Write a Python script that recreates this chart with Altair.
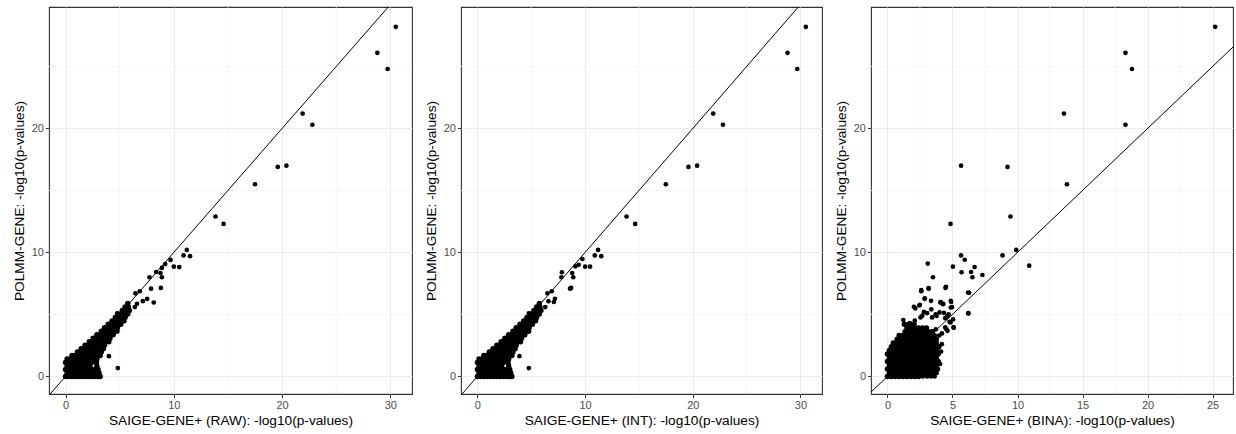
import altair as alt
import pandas as pd

# ---------------- data ----------------
# Panels 1 and 2 share the same dense cloud near the origin (rows: y -> list of x)
cloud12_rows = {
    0.00: [0, 0.3, 0.6, 0.9, 1.2, 1.5, 1.8, 2.1, 2.4, 2.7, 3.0, 3.2],
    0.28: [0.15, 0.45, 0.75, 1.05, 1.35, 1.65, 1.95, 2.25, 2.55, 2.85, 3.1],
    0.56: [0, 0.3, 0.6, 0.9, 1.2, 1.5, 1.8, 2.1, 2.4, 2.7, 3.0],
    0.84: [0.15, 0.45, 0.75, 1.05, 1.35, 1.65, 1.95, 2.25, 2.9],
    1.12: [0, 0.3, 0.6, 0.9, 1.2, 1.5, 1.8, 2.1, 2.4, 2.85],
    1.40: [0.15, 0.45, 0.75, 1.05, 1.35, 1.65, 1.95, 2.25, 2.55, 2.9],
    1.68: [0.6, 0.9, 1.2, 1.5, 1.8, 2.1, 2.4, 2.7, 3.0, 3.2],
    1.96: [1.1, 1.4, 1.7, 2.0, 2.3, 2.6, 2.9, 3.3],
    2.24: [1.45, 1.75, 2.05, 2.35, 2.65, 2.95, 3.25, 3.5],
    2.52: [1.8, 2.1, 2.4, 2.7, 3.0, 3.3, 3.6],
    2.80: [2.2, 2.5, 2.8, 3.1, 3.4, 3.7, 4.0],
    3.08: [2.55, 2.85, 3.15, 3.45, 3.75, 4.1],
    3.36: [2.9, 3.2, 3.5, 3.8, 4.1, 4.4],
    3.64: [3.3, 3.6, 3.9, 4.2, 4.5, 4.75],
    3.92: [3.6, 3.9, 4.2, 4.5, 4.8],
    4.20: [3.95, 4.25, 4.55, 4.85, 5.1],
    4.48: [4.3, 4.6, 4.9, 5.2, 5.4],
    4.76: [4.6, 4.9, 5.2, 5.5],
    5.04: [4.9, 5.2, 5.5, 5.75],
    5.32: [5.25, 5.55, 5.9],
    5.60: [5.5, 5.8],
    5.88: [5.75],
}

raw_x = [30.5, 28.8, 29.75, 21.9, 22.8, 19.6, 20.4, 17.5, 13.85, 14.6, 11.2, 10.9,
         11.5, 9.7, 10.0, 10.5, 9.2, 8.9, 7.75, 8.37, 8.77, 8.9, 7.9, 8.8, 8.15,
         6.46, 6.86, 7.54, 7.14, 6.6, 6.4, 4.77, 5.6, 4.0, 4.83]
raw_y = [28.2, 26.1, 24.8, 21.2, 20.3, 16.9, 17.0, 15.5, 12.9, 12.3, 10.2, 9.76,
         9.7, 9.4, 8.85, 8.82, 9.06, 8.75, 8.0, 8.42, 8.34, 8.0, 7.08, 7.14, 5.96,
         6.7, 6.87, 6.26, 6.07, 5.86, 5.59, 5.08, 5.13, 1.63, 0.67]

int_x = [30.5, 28.8, 29.7, 21.9, 22.8, 19.6, 20.4, 17.5, 13.85, 14.65, 11.2, 10.9,
         11.5, 9.75, 9.4, 9.1, 10.0, 10.46, 7.85, 7.8, 8.8, 8.9, 8.6, 8.7, 6.5,
         6.9, 7.2, 7.1, 6.6, 6.3, 4.77, 5.6, 3.9, 4.77]
int_y = [28.2, 26.1, 24.8, 21.2, 20.3, 16.9, 17.0, 15.5, 12.9, 12.3, 10.2, 9.76,
         9.7, 9.47, 9.0, 8.88, 8.85, 8.85, 8.4, 8.0, 8.34, 8.0, 7.08, 7.14, 6.7,
         6.87, 6.26, 6.0, 6.07, 5.59, 5.08, 5.53, 1.63, 0.67]

# Panel 3 dense cloud (rows: y -> list of x)
cloud3_rows = {
    0.0: [0, 0.3, 0.6, 0.9, 1.2, 1.5, 1.8, 2.1, 2.4],
    0.3: [0.15, 0.45, 0.75, 1.05, 1.35, 1.65, 1.95, 2.25, 2.55, 2.85, 3.15, 3.45, 3.75],
    0.6: [0, 0.3, 0.6, 0.9, 1.2, 1.5, 1.8, 2.1, 2.4, 2.7, 3.0, 3.3, 3.6, 3.85],
    0.9: [0.15, 0.45, 0.75, 1.05, 1.35, 1.65, 1.95, 2.25, 2.55, 2.85, 3.15, 3.45, 3.75],
    1.2: [0, 0.3, 0.6, 0.9, 1.2, 1.5, 1.8, 2.1, 2.4, 2.7, 3.0, 3.3, 3.6, 3.9],
    1.5: [0.15, 0.45, 0.75, 1.05, 1.35, 1.65, 1.95, 2.25, 2.55, 2.85, 3.15, 3.45, 3.75],
    1.8: [0, 0.3, 0.6, 0.9, 1.2, 1.5, 1.8, 2.1, 2.4, 2.7, 3.0, 3.3, 3.6, 3.9],
    2.1: [0.15, 0.45, 0.75, 1.05, 1.35, 1.65, 1.95, 2.25, 2.55, 2.85, 3.15, 3.45, 3.75],
    2.4: [0.3, 0.6, 0.9, 1.2, 1.5, 1.8, 2.1, 2.4, 2.7, 3.0, 3.3, 3.6, 3.95],
    2.7: [0.45, 0.75, 1.05, 1.35, 1.65, 1.95, 2.25, 2.55, 2.85, 3.15, 3.45, 3.75],
    3.0: [0.75, 1.05, 1.35, 1.65, 1.95, 2.25, 2.55, 2.85, 3.15, 3.45, 3.75],
    3.3: [0.9, 1.2, 1.5, 1.8, 2.1, 2.4, 2.7, 3.0, 3.3, 3.6],
    3.6: [1.35, 1.65, 1.95, 2.25, 2.55, 2.85, 3.15, 3.45],
    3.9: [1.5, 1.8, 2.1, 2.4, 2.7, 3.0],
    4.2: [1.3, 1.65, 2.05],
}

bina_x = [25.2, 18.3, 18.8, 13.57, 18.3, 5.66, 9.23, 13.8, 9.46, 4.85, 9.9, 8.85,
          10.9, 5.66, 5.94, 3.1, 5.03, 6.7, 6.43, 5.7, 7.3, 6.53, 3.5, 4.46, 3.16,
          2.6, 6.28, 2.86, 4.1, 4.29, 4.9, 2.45, 2.14, 3.37, 4.97, 6.22, 4.34, 2.8,
          3.78, 4.6, 5.05, 5.1, 4.54, 3.72, 1.22, 1.73, 2.1, 2.54, 3.05, 3.43, 4.0,
          4.44, 4.7, 5.08, 4.44, 4.77, 4.62, 4.19, 2.6, 3.17, 4.5, 6.2, 2.87, 3.35,
          4.06, 4.26, 4.87, 4.87, 6.22, 2.03, 2.49, 2.68, 3.7, 4.85,
          2.72, 3.05, 3.35, 3.62, 4.05, 4.12, 4.18, 3.98]
bina_y = [28.2, 26.1, 24.8, 21.2, 20.3, 17.0, 16.9, 15.5, 12.9, 12.3, 10.2, 9.76,
          8.93, 9.76, 9.41, 9.1, 8.85, 8.82, 8.42, 8.4, 8.18, 8.0, 8.0, 7.14, 7.08,
          6.87, 6.74, 6.26, 5.99, 5.86, 6.0, 5.72, 5.48, 5.4, 5.59, 5.08, 5.13, 5.2,
          4.87, 4.87, 4.6, 3.93, 3.8, 3.8, 4.54, 4.3, 4.5, 4.76, 5.1, 4.76, 5.16,
          4.7, 5.0, 3.95, 3.95, 4.4, 3.68, 3.47, 6.96, 7.12, 7.23, 6.77, 6.3, 6.1,
          5.97, 5.83, 6.1, 5.56, 5.1, 5.62, 5.78, 4.9, 5.0, 4.35,
          0.0, 0.0, 0.0, 0.0, 1.0, 2.0, 2.6, 3.3]

x_titles = ["SAIGE-GENE+ (RAW): -log10(p-values)",
            "SAIGE-GENE+ (INT): -log10(p-values)",
            "SAIGE-GENE+ (BINA): -log10(p-values)"]
y_title = "POLMM-GENE: -log10(p-values)"

x_major_30 = [0, 10, 20, 30]
x_minor_30 = [5, 15, 25]
x_major_25 = [0, 5, 10, 15, 20, 25]
x_minor_25 = [2.5, 7.5, 12.5, 17.5, 22.5]
y_major = [0, 10, 20]
y_minor = [5, 15, 25]
diag_ends = [-5, 40]

# ---------------- helpers ----------------
def rows_to_xy(rows):
    xs, ys = [], []
    for yv, xl in rows.items():
        for xv in xl:
            xs.append(xv)
            ys.append(yv)
    return xs, ys

FONT = "Liberation Sans"
Y_DOM = [-1.42, 29.8]


def panel(px, py, cloud_rows, xdom, xmajor, xminor, xtitle, width):
    cx, cy = rows_to_xy(cloud_rows)
    cloud = pd.DataFrame({"x": cx, "y": cy})
    pts = pd.DataFrame({"x": px, "y": py})
    xs = alt.Scale(domain=xdom, nice=False, zero=False)
    ys = alt.Scale(domain=Y_DOM, nice=False, zero=False)
    xax = alt.Axis(values=xmajor, title=xtitle, grid=True, labelPadding=1.5,
                   titlePadding=3)
    yax = alt.Axis(values=y_major, title=y_title, grid=True, labelPadding=2,
                   titlePadding=5)

    vminor = alt.Chart(pd.DataFrame({"x": xminor})).mark_rule(
        color="#F2F2F2", strokeWidth=0.7).encode(
        x=alt.X("x:Q", scale=xs, axis=xax))
    hminor = alt.Chart(pd.DataFrame({"y": y_minor})).mark_rule(
        color="#F2F2F2", strokeWidth=0.7).encode(
        y=alt.Y("y:Q", scale=ys, axis=yax))
    diag = alt.Chart(pd.DataFrame({"a": [diag_ends[0]], "b": [diag_ends[1]]})).mark_rule(
        color="black", strokeWidth=1, clip=True).encode(
        x=alt.X("a:Q", scale=xs), y=alt.Y("a:Q", scale=ys),
        x2="b:Q", y2="b:Q")
    cloud_l = alt.Chart(cloud).mark_circle(color="black", opacity=1, size=30,
                                           clip=True).encode(
        x=alt.X("x:Q", scale=xs), y=alt.Y("y:Q", scale=ys))
    dots = alt.Chart(pts).mark_circle(color="black", opacity=1, size=22,
                                      clip=True).encode(
        x=alt.X("x:Q", scale=xs), y=alt.Y("y:Q", scale=ys))
    return alt.layer(vminor, hminor, diag, cloud_l, dots).properties(
        width=width, height=387)


p1 = panel(raw_x, raw_y, cloud12_rows, [-1.525, 32.0], x_major_30, x_minor_30,
           x_titles[0], 363)
p2 = panel(int_x, int_y, cloud12_rows, [-1.525, 32.0], x_major_30, x_minor_30,
           x_titles[1], 361)
p3 = panel(bina_x, bina_y, cloud3_rows, [-1.265, 26.57], x_major_25, x_minor_25,
           x_titles[2], 362)

chart = alt.hconcat(p1, p2, p3, spacing=10).properties(
    padding={"left": 11, "top": 6, "right": 0, "bottom": 0},
    background="white",
).configure_view(
    stroke="#333333", strokeWidth=1.1
).configure_axis(
    domain=False,
    gridColor="#EBEBEB", gridWidth=1.1,
    ticks=True, tickColor="#333333", tickSize=3.5, tickWidth=1,
    labelColor="#4D4D4D", labelFont=FONT, labelFontSize=11,
    titleColor="black", titleFont=FONT, titleFontSize=13.7, titleFontWeight="normal",
)

chart.save("out.html", embed_options={"renderer": "svg", "actions": False})
